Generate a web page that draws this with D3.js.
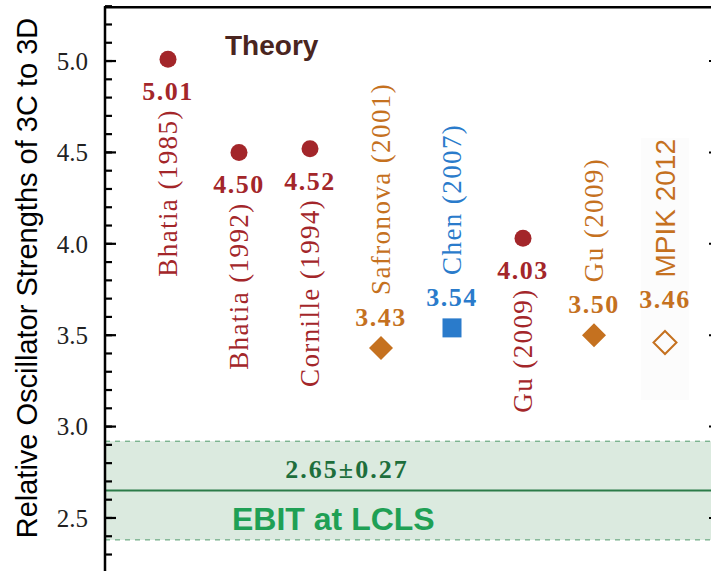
<!DOCTYPE html>
<html>
<head>
<meta charset="utf-8">
<script src="https://cdn.jsdelivr.net/npm/d3@7"></script>
<style>
  body { margin: 0; background: #fff; }
  svg { display: block; }
</style>
</head>
<body>
<div id="chart"></div>
<script>
// data
const references = ["Bhatia (1985)", "Bhatia (1992)", "Cornille (1994)", "Safronova (2001)",
  "Chen (2007)", "Gu (2009)", "Gu (2009)", "MPIK 2012"];
const ratios = [5.01, 4.50, 4.52, 3.43, 3.54, 4.03, 3.50, 3.46];
const methods = ["dw", "dw", "dw", "mbpt", "mcdf", "dw", "mbpt", "mpik"];
const ebitValue = 2.65;
const ebitError = 0.27;
const majorTicks = [2.5, 3.0, 3.5, 4.0, 4.5, 5.0];

const width = 711, height = 571;
const plot = { left: 105, right: 720, top: 6.2, bottom: 572.8 };

const svg = d3.select('#chart').append('svg')
  .attr('width', width)
  .attr('height', height);

const x = d3.scalePoint()
  .domain(d3.range(references.length))
  .range([168, 665]);

const y = d3.scaleLinear()
  .domain([2.2, 5.3])
  .range([plot.bottom, plot.top]);

const colors = { dw: '#a3262a', mbpt: '#c5711f', mcdf: '#2a7bcb', mpik: '#c5711f' };

// measurement band
const band = svg.append('g');
band.append('rect')
  .attr('x', plot.left)
  .attr('width', plot.right - plot.left)
  .attr('y', y(ebitValue + ebitError))
  .attr('height', y(ebitValue - ebitError) - y(ebitValue + ebitError))
  .attr('fill', '#dbeadf');
[ebitValue + ebitError, ebitValue - ebitError].forEach(v => {
  band.append('line')
    .attr('x1', plot.left).attr('x2', plot.right)
    .attr('y1', y(v)).attr('y2', y(v))
    .attr('stroke', '#4f9a6a')
    .attr('stroke-width', 1)
    .attr('stroke-dasharray', '5,5');
});
band.append('line')
  .attr('x1', plot.left).attr('x2', plot.right)
  .attr('y1', y(ebitValue)).attr('y2', y(ebitValue))
  .attr('stroke', '#2b7b48')
  .attr('stroke-width', 2);

band.append('text')
  .attr('x', 347)
  .attr('y', y(ebitValue) - 13)
  .attr('text-anchor', 'middle')
  .attr('font-family', 'Liberation Serif')
  .attr('font-weight', 'bold')
  .attr('font-size', 26)
  .attr('letter-spacing', 2)
  .attr('fill', '#1e6e3c')
  .text(ebitValue.toFixed(2) + '\u00b1' + ebitError.toFixed(2));

band.append('text')
  .attr('x', 232)
  .attr('y', y(ebitValue) + 39)
  .attr('font-family', 'Liberation Sans')
  .attr('font-weight', 'bold')
  .attr('font-size', 32)
  .attr('fill', '#1fa055')
  .text('EBIT at LCLS');

// very faint box behind MPIK label
svg.append('rect')
  .attr('x', x(7) - 24).attr('width', 48)
  .attr('y', 138).attr('height', 262)
  .attr('fill', '#fcfcfc');

// spines first, ticks on top
svg.append('line')
  .attr('x1', plot.left).attr('x2', plot.left)
  .attr('y1', plot.top).attr('y2', height)
  .attr('stroke', '#000').attr('stroke-width', 2.5);
svg.append('line')
  .attr('x1', plot.left - 1).attr('x2', width)
  .attr('y1', plot.top + 1).attr('y2', plot.top + 1)
  .attr('stroke', '#000').attr('stroke-width', 2.5);

// ticks point inward, minor every 0.1
const minorTicks = d3.range(23, 54).map(d => d / 10);
const ticks = svg.append('g');

ticks.selectAll('line.minor')
  .data(minorTicks)
  .join('line')
  .attr('class', 'minor')
  .attr('x1', plot.left).attr('x2', plot.left + 7)
  .attr('y1', d => y(d)).attr('y2', d => y(d))
  .attr('stroke', '#000').attr('stroke-width', 2.2);

ticks.selectAll('line.major')
  .data(majorTicks)
  .join('line')
  .attr('class', 'major')
  .attr('x1', plot.left).attr('x2', plot.left + 11)
  .attr('y1', d => y(d)).attr('y2', d => y(d))
  .attr('stroke', '#000').attr('stroke-width', 2.2);

ticks.selectAll('line.right')
  .data(majorTicks)
  .join('line')
  .attr('class', 'right')
  .attr('x1', plot.right - 11).attr('x2', plot.right)
  .attr('y1', d => y(d)).attr('y2', d => y(d))
  .attr('stroke', '#000').attr('stroke-width', 2);

ticks.selectAll('text')
  .data(majorTicks)
  .join('text')
  .attr('x', plot.left - 17)
  .attr('y', d => y(d))
  .attr('dy', '0.35em')
  .attr('text-anchor', 'end')
  .attr('font-family', 'Liberation Serif')
  .attr('font-size', 25)
  .attr('fill', '#222')
  .text(d3.format('.1f'));

svg.append('text')
  .attr('transform', `translate(37,278) rotate(-90)`)
  .attr('text-anchor', 'middle')
  .attr('font-family', 'Liberation Sans')
  .attr('font-size', 29)
  .attr('fill', '#000')
  .text('Relative Oscillator Strengths of 3C to 3D');

svg.append('text')
  .attr('x', 225)
  .attr('y', 55)
  .attr('font-family', 'Liberation Sans')
  .attr('font-weight', 'bold')
  .attr('font-size', 28)
  .attr('fill', '#4a2520')
  .text('Theory');

// theory points
const points = references.map((name, i) => ({ name, value: ratios[i], method: methods[i], i }));
const below = d => d.value > 4; // high values carry their labels underneath

const pts = svg.append('g').selectAll('g')
  .data(points)
  .join('g')
  .attr('transform', d => `translate(${x(d.i)},${y(d.value)})`);

pts.each(function(d) {
  const g = d3.select(this);
  const c = colors[d.method];
  if (d.method === 'dw') {
    g.append('circle').attr('r', 8.5).attr('fill', c);
  } else if (d.method === 'mcdf') {
    g.append('rect').attr('x', -9.5).attr('y', -9.5).attr('width', 19).attr('height', 19).attr('fill', c);
  } else if (d.method === 'mbpt') {
    g.append('path').attr('d', 'M0,-12L12,0L0,12L-12,0Z').attr('fill', c);
  } else {
    g.append('path').attr('d', 'M0,-11.5L11.5,0L0,11.5L-11.5,0Z')
      .attr('fill', 'none').attr('stroke', c).attr('stroke-width', 2);
  }

  g.append('text')
    .attr('x', 0)
    .attr('y', below(d) ? 41 : (d.method === 'mpik' ? -35 : -22))
    .attr('text-anchor', 'middle')
    .attr('font-family', 'Liberation Serif')
    .attr('font-weight', 'bold')
    .attr('font-size', 26)
    .attr('letter-spacing', 1.5)
    .attr('fill', c)
    .text(d.value.toFixed(2));

  const isSans = d.method === 'mpik';
  g.append('text')
    .attr('transform', `translate(0,${below(d) ? 50 : (isSans ? -65 : -53)}) rotate(-90)`)
    .attr('dy', '0.35em')
    .attr('text-anchor', below(d) ? 'end' : 'start')
    .attr('font-family', isSans ? 'Liberation Sans' : 'Liberation Serif')
    .attr('font-size', isSans ? 28 : 27)
    .attr('letter-spacing', isSans ? 0 : 1.4)
    .attr('fill', c)
    .text(d.name);
});
</script>
</body>
</html>
